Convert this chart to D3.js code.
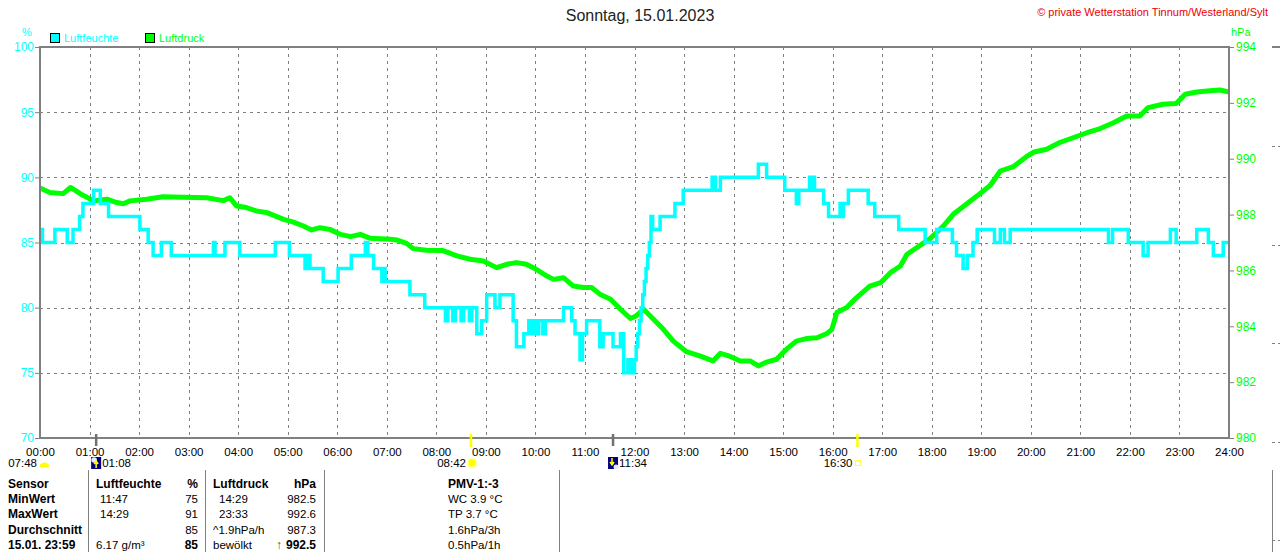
<!DOCTYPE html>
<html>
<head>
<meta charset="utf-8">
<script src="https://cdnjs.cloudflare.com/ajax/libs/d3/7.8.5/d3.min.js"></script>
<style>
    body { margin: 0; background: #fff; }
    svg text { font-family: Arial, "Liberation Sans", sans-serif; }
</style>
</head>
<body>
<div id="chart"></div>
<script>

// humidity (%), step series: minute of day where a new value starts
var humTimes = [0, 3, 18, 33, 40, 48, 52, 65, 73, 83,
    121, 131, 137, 147, 159, 210, 212, 224, 242, 285,
    302, 321, 324, 327, 343, 361, 377, 394, 397, 404,
    414, 416, 418, 448, 466, 491, 494, 500, 503, 510,
    513, 520, 523, 529, 535, 541, 551, 557, 573, 577,
    586, 592, 595, 598, 601, 604, 609, 612, 634, 644,
    648, 654, 657, 662, 678, 682, 694, 703, 707, 712,
    716, 720, 722, 724, 726, 728, 730, 732, 734, 736,
    738, 740, 742, 751, 769, 779, 814, 818, 824, 870,
    880, 902, 916, 919, 932, 934, 936, 938, 949, 955,
    969, 971, 973, 979, 1003, 1011, 1040, 1072, 1086, 1105,
    1110, 1118, 1123, 1130, 1135, 1156, 1163, 1168, 1175, 1294,
    1299, 1318, 1336, 1342, 1369, 1376, 1401, 1415, 1421, 1433,
    1440];
var humValues = [86, 85, 86, 85, 86, 87, 88, 89, 88, 87,
    86, 85, 84, 85, 84, 85, 84, 85, 84, 85,
    84, 83, 84, 83, 82, 83, 84, 85, 84, 83,
    82, 83, 82, 81, 80, 79, 80, 79, 80, 79,
    80, 79, 80, 78, 79, 81, 80, 81, 79, 77,
    78, 79, 78, 79, 78, 79, 78, 79, 80, 79,
    78, 76, 78, 79, 77, 78, 77, 78, 75, 76,
    75, 76, 77, 78, 79, 80, 81, 82, 83, 84,
    85, 87, 86, 87, 88, 89, 90, 89, 90, 91,
    90, 89, 88, 89, 90, 89, 90, 89, 88, 87,
    88, 87, 88, 89, 88, 87, 86, 85, 86, 85,
    84, 83, 84, 85, 86, 85, 86, 85, 86, 85,
    86, 85, 84, 85, 86, 85, 86, 85, 84, 85,
    85];

// air pressure (hPa)
var pressTimes = [0, 12, 28, 37, 52, 65, 81, 93, 101, 109,
    129, 149, 173, 202, 222, 230, 238, 250, 262, 275,
    295, 307, 319, 329, 339, 351, 364, 376, 388, 400,
    424, 432, 444, 452, 468, 488, 505, 521, 537, 553,
    565, 577, 589, 601, 614, 622, 634, 646, 658, 668,
    678, 691, 703, 715, 722, 731, 743, 755, 767, 783,
    799, 815, 824, 836, 848, 860, 870, 880, 892, 904,
    916, 928, 941, 953, 959, 965, 977, 989, 1005, 1018,
    1030, 1042, 1050, 1062, 1078, 1094, 1106, 1123, 1135, 1151,
    1163, 1179, 1195, 1204, 1219, 1235, 1252, 1268, 1284, 1300,
    1316, 1332, 1342, 1360, 1376, 1387, 1401, 1417, 1429, 1440];
var pressValues = [988.95, 988.79, 988.75, 988.97, 988.69, 988.49, 988.55, 988.43, 988.39, 988.49,
    988.55, 988.64, 988.62, 988.60, 988.50, 988.60, 988.31, 988.25, 988.13, 988.07,
    987.83, 987.73, 987.59, 987.45, 987.53, 987.47, 987.29, 987.21, 987.29, 987.15,
    987.12, 987.09, 986.97, 986.78, 986.72, 986.71, 986.52, 986.40, 986.34, 986.10,
    986.22, 986.28, 986.22, 986.04, 985.80, 985.68, 985.74, 985.44, 985.39, 985.39,
    985.15, 984.97, 984.61, 984.28, 984.37, 984.61, 984.25, 983.89, 983.47, 983.09,
    982.94, 982.76, 983.03, 982.92, 982.76, 982.76, 982.58, 982.72, 982.82, 983.18,
    983.47, 983.56, 983.59, 983.74, 983.89, 984.49, 984.67, 985.03, 985.44, 985.56,
    985.92, 986.16, 986.58, 986.82, 987.14, 987.59, 988.01, 988.40, 988.67, 989.05,
    989.56, 989.72, 990.08, 990.24, 990.34, 990.58, 990.76, 990.93, 991.08, 991.29,
    991.53, 991.53, 991.83, 991.95, 991.98, 992.31, 992.39, 992.43, 992.46, 992.39];

var hourLabels = ["00:00", "01:00", "02:00", "03:00", "04:00", "05:00", "06:00", "07:00",
    "08:00", "09:00", "10:00", "11:00", "12:00", "13:00", "14:00", "15:00", "16:00",
    "17:00", "18:00", "19:00", "20:00", "21:00", "22:00", "23:00", "24:00"];
var humTicks = [70, 75, 80, 85, 90, 95, 100];
var pressTicks = [980, 982, 984, 986, 988, 990, 992, 994];

// sun and moon events
var dawnLabel = "07:48";
var sunTimes = ["08:42", "16:30"];
var moonTimes = ["01:08", "11:34"];

// table below the chart
var tableRows = ["Sensor", "MinWert", "MaxWert", "Durchschnitt", "15.01. 23:59"];
var humText = ["Luftfeuchte", "11:47", "14:29", "", "6.17 g/m³"];
var humCol = ["%", "75", "91", "85", "85"];
var pressText = ["Luftdruck", "14:29", "23:33", "^1.9hPa/h", "bewölkt"];
var pressCol = ["hPa", "982.5", "992.6", "987.3", "992.5"];
var pmvText = ["PMV-1:-3", "WC 3.9 °C", "TP 3.7 °C", "1.6hPa/3h", "0.5hPa/1h"];

var CYAN = "#00ffff", GREEN = "#00ff00", GREY = "#808080";

function toMin(s) {
    var p = s.split(":");
    return +p[0] * 60 + +p[1];
}

var margin = {top: 47, right: 51, bottom: 114, left: 40},
    width = 1280 - margin.left - margin.right,
    height = 552 - margin.top - margin.bottom;

var svg = d3.select("#chart").append("svg")
    .attr("width", 1280)
    .attr("height", 552);

var g = svg.append("g")
    .attr("transform", "translate(" + margin.left + "," + margin.top + ")");

var x = d3.scaleLinear().domain([0, 1440]).range([0, width]);
var yHum = d3.scaleLinear().domain([70, 100]).range([height, 0]);
var yPress = d3.scaleLinear().domain([980, 994]).range([height, 0]);

// title and copyright
svg.append("text")
    .attr("x", 640).attr("y", 21)
    .attr("text-anchor", "middle")
    .style("font-size", "16px")
    .style("fill", "#222")
    .text("Sonntag, 15.01.2023");

svg.append("text")
    .attr("x", 1268).attr("y", 16)
    .attr("text-anchor", "end")
    .style("font-size", "11px")
    .style("fill", "#ee0000")
    .text("© private Wetterstation Tinnum/Westerland/Sylt");

// unit labels
svg.append("text").attr("x", 22).attr("y", 36)
    .style("font-size", "11px").style("fill", CYAN).text("%");
svg.append("text").attr("x", 1231).attr("y", 36)
    .style("font-size", "11px").style("fill", GREEN).text("hPa");

// legend
var legend = [{name: "Luftfeuchte", color: CYAN, x: 50}, {name: "Luftdruck", color: GREEN, x: 145}];
legend.forEach(function (d) {
    svg.append("rect")
        .attr("x", d.x + 0.5).attr("y", 33.5)
        .attr("width", 9).attr("height", 9)
        .style("fill", d.color)
        .style("stroke", "#000");
    svg.append("text")
        .attr("x", d.x + 14).attr("y", 42)
        .style("font-size", "11px")
        .style("fill", d.color)
        .text(d.name);
});

// grid
g.append("g").selectAll("line")
    .data(hourLabels.slice(1, hourLabels.length - 1))
    .enter().append("line")
    .attr("x1", function (d) { return Math.round(x(toMin(d))) + 0.5; })
    .attr("x2", function (d) { return Math.round(x(toMin(d))) + 0.5; })
    .attr("y1", 0).attr("y2", height)
    .style("stroke", GREY)
    .style("stroke-dasharray", "3,4");

g.append("g").selectAll("line")
    .data(humTicks.slice(1, humTicks.length - 1))
    .enter().append("line")
    .attr("x1", 0).attr("x2", width)
    .attr("y1", function (d) { return Math.round(yHum(d)) + 0.5; })
    .attr("y2", function (d) { return Math.round(yHum(d)) + 0.5; })
    .style("stroke", GREY)
    .style("stroke-dasharray", "3,4");

// axes
var xAxis = d3.axisBottom(x)
    .tickValues(hourLabels.map(toMin))
    .tickFormat(function (d, i) { return hourLabels[i]; })
    .tickSize(0)
    .tickPadding(10);

var yAxisLeft = d3.axisLeft(yHum).tickValues(humTicks).tickSize(5).tickPadding(1);
var yAxisRight = d3.axisRight(yPress).tickValues(pressTicks).tickSize(5).tickPadding(2);

var gx = g.append("g")
    .attr("class", "x axis")
    .attr("transform", "translate(0," + height + ")")
    .call(xAxis);
gx.selectAll("text").style("font-size", "11.5px").style("fill", "#000");

var gl = g.append("g").attr("class", "y axis").call(yAxisLeft);
gl.selectAll("text").style("font-size", "12px").style("fill", CYAN);

var gr = g.append("g").attr("class", "y axis")
    .attr("transform", "translate(" + width + ",0)")
    .call(yAxisRight);
gr.selectAll("text").style("font-size", "12px").style("fill", GREEN);

g.selectAll(".axis .domain").remove();
g.selectAll(".axis line").style("stroke", GREY);

// series
var pressData = pressTimes.map(function (t, i) { return {t: t, v: pressValues[i]}; });
var humData = humTimes.map(function (t, i) { return {t: t, v: humValues[i]}; });

g.append("path")
    .datum(pressData)
    .attr("d", d3.line()
        .x(function (d) { return x(d.t); })
        .y(function (d) { return yPress(d.v); }))
    .style("fill", "none")
    .style("stroke", GREEN)
    .style("stroke-width", 5)
    .style("stroke-linejoin", "round");

g.append("path")
    .datum(humData)
    .attr("d", d3.line()
        .x(function (d) { return x(d.t); })
        .y(function (d) { return yHum(d.v); })
        .curve(d3.curveStepAfter))
    .style("fill", "none")
    .style("stroke", CYAN)
    .style("stroke-width", 3.5);

// frame
g.append("path")
    .attr("d", "M0,0H" + width + "V" + height + "H0Z")
    .style("fill", "none")
    .style("stroke", GREY)
    .style("stroke-width", 2);

// sun / moon ticks
sunTimes.forEach(function (s) {
    g.append("line")
        .attr("x1", x(toMin(s))).attr("x2", x(toMin(s)))
        .attr("y1", height - 4).attr("y2", height + 9)
        .style("stroke", "#ffff00").style("stroke-width", 2.5);
});
moonTimes.forEach(function (s) {
    g.append("line")
        .attr("x1", x(toMin(s))).attr("x2", x(toMin(s)))
        .attr("y1", height - 4).attr("y2", height + 8)
        .style("stroke", "#707070").style("stroke-width", 2.5);
});

var evY = height + 25;

// dawn at the left edge
g.append("text")
    .attr("x", -3).attr("y", evY + 4)
    .attr("text-anchor", "end")
    .style("font-size", "11.5px")
    .text(dawnLabel);
g.append("path")
    .attr("transform", "translate(" + (x(0) + 4.5) + "," + evY + ")")
    .attr("d", "M-5,4A5,4.5 0 0 1 5,4Z")
    .style("fill", "#ffff00");

// sunrise / sunset
sunTimes.forEach(function (s, i) {
    var sx = x(toMin(s));
    g.append("text")
        .attr("x", sx - 5).attr("y", evY + 4)
        .attr("text-anchor", "end")
        .style("font-size", "11.5px")
        .text(s);
    if (i == 0) {
        g.append("circle").attr("cx", sx + 1).attr("cy", evY)
            .attr("r", 5.5).style("fill", "#ffffb0");
        g.append("circle").attr("cx", sx + 1).attr("cy", evY)
            .attr("r", 3.8).style("fill", "#ffff00");
    } else {
        g.append("rect").attr("x", sx - 2).attr("y", evY - 2.5)
            .attr("width", 5).attr("height", 5)
            .style("fill", "none").style("stroke", "#ffff40");
    }
});

// moonrise / moonset
moonTimes.forEach(function (s, i) {
    var mx = x(toMin(s));
    var icon = g.append("g").attr("transform", "translate(" + (mx - 5) + "," + (evY - 6) + ")");
    icon.append("rect").attr("width", 10).attr("height", 12).style("fill", "#000080");
    if (i == 0) {
        icon.append("circle").attr("cx", 3).attr("cy", 3).attr("r", 2.8).style("fill", "#e8e8ff");
        icon.append("path").attr("d", "M5,11V5M3,7L5,4L7,7").style("stroke", "#ffff00")
            .style("stroke-width", 1.5).style("fill", "none");
    } else {
        icon.append("circle").attr("cx", 8).attr("cy", 10).attr("r", 2.5).style("fill", "#e8e8ff");
        icon.append("path").attr("d", "M4,1V7M2,5L4,8L6,5").style("stroke", "#ffff00")
            .style("stroke-width", 1.5).style("fill", "none");
    }
    g.append("text")
        .attr("x", mx + 6).attr("y", evY + 4)
        .style("font-size", "11.5px")
        .text(s);
});

// table
var table = svg.append("g");
[88, 205, 324, 559, 1272].forEach(function (sx) {
    table.append("line")
        .attr("x1", sx + 0.5).attr("x2", sx + 0.5)
        .attr("y1", 470).attr("y2", 552)
        .style("stroke", GREY);
});

function cell(tx, ty, txt, anchor, bold) {
    return table.append("text")
        .attr("x", tx).attr("y", ty)
        .attr("text-anchor", anchor)
        .style("font-size", bold ? "12px" : "11.5px")
        .style("font-weight", bold ? "bold" : "normal")
        .style("fill", "#000")
        .text(txt);
}

tableRows.forEach(function (r, i) {
    var ty = 488 + i * 15.2;
    var head = (i == 0), last = (i == tableRows.length - 1);
    cell(8, ty, r, "start", true);
    cell((i == 1 || i == 2) ? 100 : 96, ty, humText[i], "start", head);
    cell(198, ty, humCol[i], "end", head || last);
    cell((i == 1 || i == 2) ? 219 : 213, ty, pressText[i], "start", head);
    cell(316, ty, pressCol[i], "end", head || last);
    if (last) {
        table.append("text")
            .attr("x", 282).attr("y", ty)
            .attr("text-anchor", "end")
            .style("font-size", "12px")
            .style("font-weight", "bold")
            .style("fill", "#704010")
            .text("↑");
    }
    cell(448, ty, pmvText[i], "start", head);
});

// edge of the neighbouring chart
var stub = svg.append("g");
stub.append("line").attr("x1", 1272).attr("x2", 1280).attr("y1", 47).attr("y2", 47)
    .style("stroke", GREY).style("stroke-width", 2);
[146, 245, 343, 442, 540].forEach(function (sy) {
    stub.append("line").attr("x1", 1272).attr("x2", 1280).attr("y1", sy + 0.5).attr("y2", sy + 0.5)
        .style("stroke", GREY).style("stroke-dasharray", "3,3");
});

</script>
</body>
</html>
